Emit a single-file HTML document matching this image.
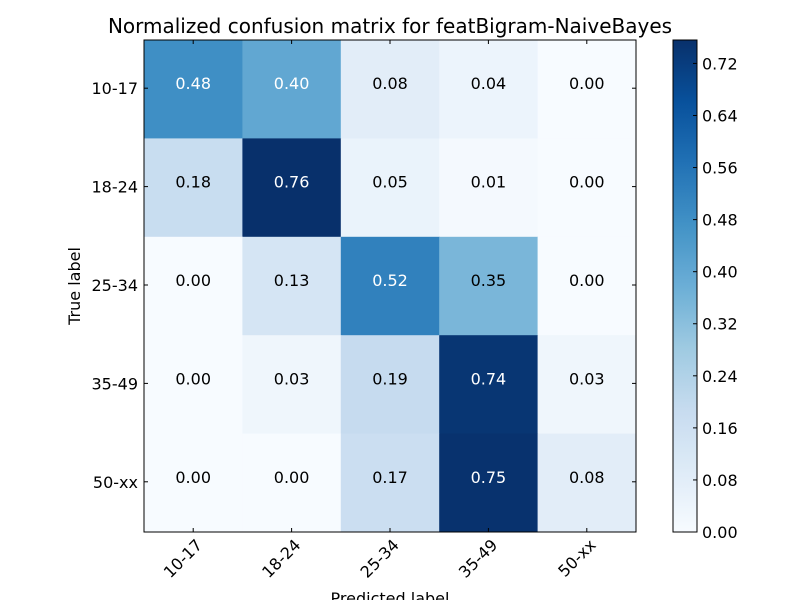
<!DOCTYPE html>
<html><head><meta charset="utf-8"><style>
body{margin:0;background:#fff;}
svg text{font-family:"DejaVu Sans","Liberation Sans",sans-serif;}
</style></head><body>
<svg id="chart" width="800" height="600" xmlns="http://www.w3.org/2000/svg">
<rect width="800" height="600" fill="#fff"/>
<text x="390" y="33" font-size="20" text-anchor="middle">Normalized confusion matrix for featBigram-NaiveBayes</text>
<g id="cells"></g>
<g id="axes"></g>
<text x="0" y="0" font-size="16" text-anchor="middle" transform="translate(80,286) rotate(-90)">True label</text>
<text x="390" y="604" font-size="16" text-anchor="middle">Predicted label</text>
</svg>
<script>
const rowLabels=["10-17","18-24","25-34","35-49","50-xx"];
const colLabels=["10-17","18-24","25-34","35-49","50-xx"];
const row0=[0.48,0.40,0.08,0.04,0.00];
const row1=[0.18,0.76,0.05,0.01,0.00];
const row2=[0.00,0.13,0.52,0.35,0.00];
const row3=[0.00,0.03,0.19,0.74,0.03];
const row4=[0.00,0.00,0.17,0.75,0.08];
const matrix=[row0,row1,row2,row3,row4];
const cbTicks=[0.00,0.08,0.16,0.24,0.32,0.40,0.48,0.56,0.64,0.72];
const vmin=0, vmax=0.756;

const NS="http://www.w3.org/2000/svg";
const stops=["#f7fbff","#deebf7","#c6dbef","#9ecae1","#6baed6","#4292c6","#2171b5","#08519c","#08306b"];
function hex(h){return [1,3,5].map(i=>parseInt(h.substr(i,2),16));}
function cmap(v){let t=Math.max(0,Math.min(1,(v-vmin)/(vmax-vmin)))*8;let i=Math.min(7,Math.floor(t));let f=t-i;let a=hex(stops[i]),b=hex(stops[i+1]);return "rgb("+a.map((x,k)=>Math.round(x+(b[k]-x)*f)).join(",")+")";}
const X0=144,Y0=40,W=492,H=492,n=5,cw=W/n,ch=H/n;
const xc=j=>X0+(j+0.5)*cw, yc=i=>Y0+(i+0.5)*ch;
function mk(tag,attrs,parent){const e=document.createElementNS(NS,tag);for(const k in attrs)e.setAttribute(k,attrs[k]);parent.appendChild(e);return e;}
const cells=document.getElementById('cells'),axes=document.getElementById('axes');
const maxV=Math.max(...matrix.flat());
matrix.forEach((row,i)=>row.forEach((v,j)=>{
 const r=mk('rect',{x:X0+j*cw,y:Y0+i*ch,width:cw+0.5,height:ch+0.5,fill:cmap(v)},cells);
 
 
 const t=mk('text',{x:xc(j),y:yc(i),'font-size':16,'text-anchor':'middle',fill:v>maxV/2?'#fff':'#000'},cells);
 t.textContent=v.toFixed(2);
 
 
}));
const fr=mk('rect',{x:X0,y:Y0,width:W,height:H,fill:'none',stroke:'#000','stroke-width':1},axes);


rowLabels.forEach((l,i)=>{
 const y=yc(i)-1;
 mk('line',{x1:X0,x2:X0+4,y1:y,y2:y,stroke:'#000'},axes);
 mk('line',{x1:X0+W-4,x2:X0+W,y1:y,y2:y,stroke:'#000'},axes);
 const t=mk('text',{x:X0-6,y:y+6,'font-size':16,'text-anchor':'end'},axes);
 t.textContent=l;
 
 
});
colLabels.forEach((l,j)=>{
 const x=xc(j);
 mk('line',{x1:x,x2:x,y1:Y0+H-4,y2:Y0+H,stroke:'#000'},axes);
 mk('line',{x1:x,x2:x,y1:Y0,y2:Y0+4,stroke:'#000'},axes);
 const t=mk('text',{x:0,y:0,'font-size':16,'text-anchor':'end',transform:'translate('+(x+10)+','+(Y0+H+14)+') rotate(-45)'},axes);
 t.textContent=l;
 
 
});
const CX=673,CW=24,CY0=40,CY1=532;
const defs=mk('defs',{},axes);
const lg=mk('linearGradient',{id:'cbg',x1:0,y1:1,x2:0,y2:0},defs);
for(let k=0;k<=40;k++){mk('stop',{offset:k/40,'stop-color':cmap(vmin+(vmax-vmin)*k/40)},lg);}
const cb=mk('rect',{x:CX,y:CY0,width:CW,height:CY1-CY0,fill:'url(#cbg)',stroke:'#000'},axes);


const cy=v=>CY1-(v-vmin)/(vmax-vmin)*(CY1-CY0);
cbTicks.forEach(v=>{
 const y=cy(v);
 mk('line',{x1:CX+CW-4,x2:CX+CW,y1:y,y2:y,stroke:'#000'},axes);
 const t=mk('text',{x:CX+CW+5,y:y+6,'font-size':16},axes);
 t.textContent=v.toFixed(2);
 
 
});
</script>
</body></html>
